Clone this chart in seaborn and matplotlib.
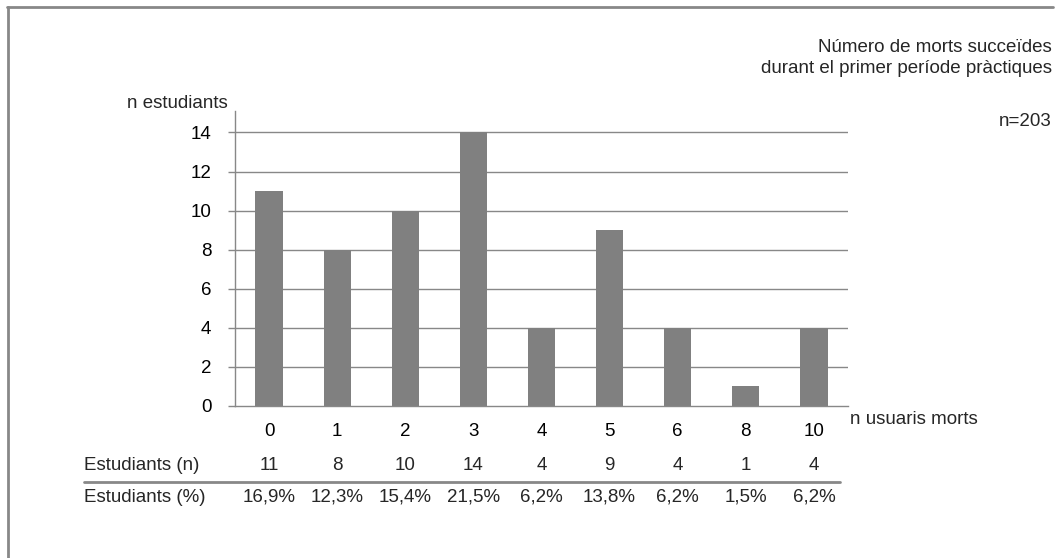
import matplotlib
matplotlib.use("Agg")
import matplotlib.pyplot as plt
import matplotlib.transforms as mtransforms
from matplotlib.lines import Line2D
import pandas as pd
import seaborn as sns

# Number of patient deaths witnessed (categories) and students per category
deaths = ["0", "1", "2", "3", "4", "5", "6", "8", "10"]
students_n = [11, 8, 10, 14, 4, 9, 4, 1, 4]
students_pct = ["16,9%", "12,3%", "15,4%", "21,5%", "6,2%", "13,8%", "6,2%", "1,5%", "6,2%"]
y_ticks = [0, 2, 4, 6, 8, 10, 12, 14]

title_lines = "Número de morts succeïdes\ndurant el primer període pràctiques"
sample_label = "n=203"

sns.set_theme(style="white")
plt.rcParams["font.family"] = ["Liberation Sans", "DejaVu Sans"]

GRAY = "#888888"
BAR = "#808080"
FS = 13.5

W, H = 1057, 558
fig = plt.figure(figsize=(W / 100, H / 100), dpi=100)
fig.patch.set_facecolor("white")

def fx(px):
    return px / W

def fy(py):
    return 1 - py / H

ax = fig.add_axes([fx(235), fy(406), fx(848) - fx(235), fy(111) - fy(406)])

df = pd.DataFrame({"morts": deaths, "n": students_n})
sns.barplot(data=df, x="morts", y="n", order=deaths, color=BAR,
            saturation=1, width=0.4, linewidth=0, ax=ax)

ax.set_ylim(0, 15.1)
ax.set_xlim(-0.5, len(deaths) - 0.5)
ax.set_yticks(y_ticks)
for t in y_ticks[1:]:
    ax.axhline(t, color=GRAY, lw=1, zorder=0)
ax.set_axisbelow(True)

for side in ["top", "right"]:
    ax.spines[side].set_visible(False)
for side in ["left", "bottom"]:
    ax.spines[side].set_color(GRAY)
    ax.spines[side].set_linewidth(1)

ax.tick_params(axis="y", length=5, width=1, color=GRAY, pad=12,
               labelsize=FS, labelcolor="black", left=True)
ax.tick_params(axis="x", length=0, pad=12, labelsize=FS, labelcolor="black")
ax.set_xlabel("")
ax.set_ylabel("")

# Axis captions
fig.text(fx(127), fy(104), "n estudiants", fontsize=FS, ha="left", va="center")
fig.text(fx(850), fy(420), "n usuaris morts", fontsize=FS, ha="left", va="center")

# Title block on the right
fig.text(fx(1052), fy(58), title_lines, fontsize=FS, ha="right", va="center",
         linespacing=1.25)
fig.text(fx(1052), fy(122), sample_label, fontsize=FS, ha="right", va="center")

# Data table under the axis
trans = mtransforms.blended_transform_factory(ax.transData, fig.transFigure)
fig.text(fx(84), fy(465), "Estudiants (n)", fontsize=FS, ha="left", va="center")
fig.text(fx(84), fy(497), "Estudiants (%)", fontsize=FS, ha="left", va="center")
for i, (n, p) in enumerate(zip(students_n, students_pct)):
    fig.text(i, fy(465), str(n), fontsize=FS, ha="center", va="center",
             transform=trans)
    fig.text(i, fy(497), p, fontsize=FS, ha="center", va="center",
             transform=trans)

fig.add_artist(Line2D([fx(84), fx(840)], [fy(482), fy(482)],
                      transform=fig.transFigure, color=GRAY, lw=2))

# Frame lines along the top and left edges
fig.add_artist(Line2D([fx(7), fx(1053)], [fy(6.5), fy(6.5)],
                      transform=fig.transFigure, color=GRAY, lw=2))
fig.add_artist(Line2D([fx(8), fx(8)], [fy(6.5), fy(558)],
                      transform=fig.transFigure, color=GRAY, lw=2))

fig.savefig("out.png", dpi=100, facecolor="white")
